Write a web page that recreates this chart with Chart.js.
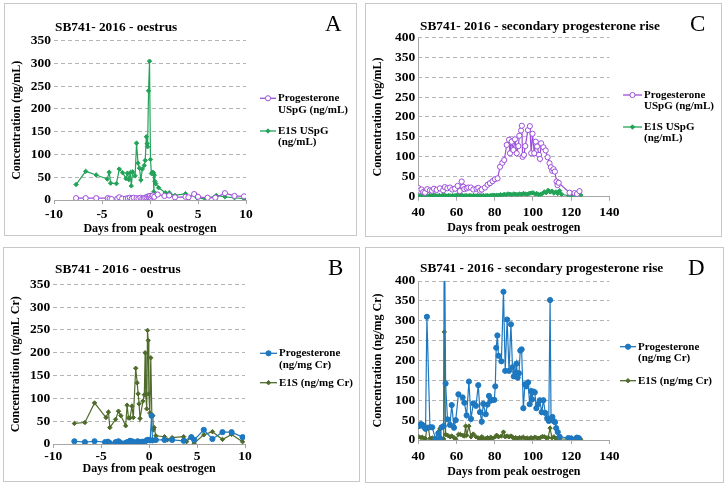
<!DOCTYPE html>
<html>
<head>
<meta charset="utf-8">
<script src="https://cdn.jsdelivr.net/npm/chart.js@4.4.0/dist/chart.umd.min.js"></script>
<style>
    body { margin: 0; background: #fff; width: 727px; height: 486px; position: relative; overflow: hidden;
           font-family: "Liberation Serif", "Times New Roman", serif; }
    .panel { position: absolute; }
    .panel canvas { position: absolute; left: 0; top: 0; }
    .frame { position: absolute; left: 0; top: 0; right: 0; bottom: 0; border: 1px solid #c8c8c8; }
    .ttl { position: absolute; font-weight: bold; font-size: 13.3px; line-height: 13px; white-space: nowrap; }
    .tag { position: absolute; font-size: 23px; line-height: 23px; }
</style>
</head>
<body>

<div class="panel" style="left:4px;top:3px;width:353px;height:233px">
    <div class="frame"></div>
    <canvas id="chartA" width="353" height="233"></canvas>
    <div class="ttl" style="left:51px;top:17px">SB741- 2016 - oestrus</div>
    <div class="tag" style="left:321px;top:9px">A</div>
</div>
<div class="panel" style="left:3px;top:247px;width:357px;height:235px">
    <div class="frame"></div>
    <canvas id="chartB" width="357" height="235"></canvas>
    <div class="ttl" style="left:52px;top:15px">SB741 - 2016 - oestrus</div>
    <div class="tag" style="left:325px;top:9px">B</div>
</div>
<div class="panel" style="left:365px;top:3px;width:357px;height:234px">
    <div class="frame"></div>
    <canvas id="chartC" width="357" height="234"></canvas>
    <div class="ttl" style="left:55px;top:16px">SB741- 2016 - secondary progesterone rise</div>
    <div class="tag" style="left:325px;top:9px">C</div>
</div>
<div class="panel" style="left:365px;top:247px;width:359px;height:236px">
    <div class="frame"></div>
    <canvas id="chartD" width="359" height="236"></canvas>
    <div class="ttl" style="left:55px;top:14px">SB741 - 2016 - secondary progesterone rise</div>
    <div class="tag" style="left:323px;top:9px">D</div>
</div>

<script>
// ========================================
// DATA
// ========================================

// A - oestrus, ng/mL
const aProgX = [-7.7, -6.7, -5.6, -4.4, -4.2, -4.0, -3.4, -3.2, -2.9, -2.5, -2.3, -2.1, -1.9, -1.7, -1.4, -1.2, -1.0, -0.8, -0.65, -0.5, -0.35, -0.2, -0.1, 0, 0.1, 0.2, 0.3, 0.45, 0.8, 1.5, 2.0, 2.6, 3.7, 4.0, 4.6, 5.0, 6.0, 6.8, 7.8, 8.8, 9.8];
const aProgY = [4, 4, 4, 4, 3, 2, 3, 6, 3, 3, 4, 5, 3, 5, 4, 3, 5, 3, 4, 5, 6, 8, 7, 9, 5, 8, 10, 7, 12, 9, 10, 6, 7, 6, 13, 7, 5, 5, 15, 9, 8];
const aE1sX = [-7.7, -6.7, -5.6, -4.45, -4.25, -4.1, -3.5, -3.2, -2.85, -2.5, -2.35, -2.2, -2.05, -1.95, -1.8, -1.55, -1.4, -1.25, -1.1, -0.95, -0.8, -0.6, -0.5, -0.38, -0.3, -0.25, -0.15, -0.05, 0.05, 0.15, 0.25, 0.35, 0.4, 0.45, 0.5, 0.6, 0.9, 1.6, 2.0, 2.6, 3.7, 4.0, 4.7, 4.9, 5.8, 6.9, 7.8, 8.8, 9.8];
const aE1sY = [34, 63, 55, 46, 61, 37, 36, 68, 60, 47, 59, 45, 60, 31, 62, 53, 125, 81, 70, 44, 68, 76, 87, 139, 124, 117, 240, 305, 89, 58, 61, 60, 18, 55, 41, 36, 27, 16, 16, 10, 14, 5, 13, 5, 2, 10, 7, 5, 3];

// B - oestrus, creatinine indexed
const bProgX = [-7.8, -6.7, -5.7, -4.6, -4.3, -4.1, -3.5, -3.2, -3.0, -2.5, -2.3, -2.0, -1.8, -1.6, -1.2, -1.0, -0.7, -0.4, -0.2, 0.0, 0.1, 0.25, 0.35, 0.7, 1.6, 2.4, 3.6, 4.4, 4.7, 5.7, 6.6, 7.65, 8.6, 9.75];
const bProgY = [6, 4, 6, 4, 5, 2, 4, 6, 3, 2, 4, 7, 6, 4, 6, 4, 5, 6, 9, 9, 8, 62, 8, 9, 9, 9, 7, 15, 9, 31, 11, 26, 26, 15];
const bE1sX = [-7.8, -6.7, -5.7, -4.5, -4.25, -4.1, -3.5, -3.2, -2.95, -2.45, -2.3, -2.15, -2.0, -1.8, -1.65, -1.4, -1.25, -1.15, -1.05, -0.95, -0.65, -0.5, -0.42, -0.35, -0.25, -0.17, -0.1, -0.03, 0.07, 0.17, 0.28, 0.38, 0.45, 0.52, 0.7, 1.6, 1.9, 2.4, 3.6, 3.9, 4.4, 4.7, 5.7, 6.6, 7.65, 8.6, 9.75];
const bE1sY = [45, 47, 90, 58, 70, 36, 54, 72, 62, 40, 85, 57, 57, 83, 58, 166, 134, 110, 88, 56, 94, 108, 200, 108, 77, 249, 227, 110, 68, 189, 64, 62, 31, 36, 18, 16, 9, 14, 16, 5, 16, 2, 20, 27, 10, 21, 5];

// C - secondary progesterone rise, ng/mL
const cProgX = [40, 40.7, 41.7, 42.6, 43.5, 44.7, 46.1, 47.2, 48.2, 49.6, 51.3, 53, 53.9, 55.2, 56.6, 57.8, 59.2, 60.6, 61.7, 62.7, 63.5, 64.1, 65.3, 66.2, 67.5, 68.8, 70.5, 71.4, 72.3, 73.2, 74.9, 76.3, 77.5, 78.9, 80.1, 81.5, 82.8, 84, 85, 86.3, 87.5, 88, 88.9, 89.8, 90.6, 91.5, 92.4, 92.9, 93.8, 94.2, 94.6, 95.3, 96, 97.4, 98.4, 99.1, 99.8, 100.7, 101.5, 102.2, 103.2, 103.7, 104.3, 105.5, 106.7, 107.7, 108.7, 109.4, 110.1, 110.8, 111.5, 112.4, 112.9, 113.5, 119.2, 121.8, 123.1, 124.4];
const cProgY = [22, 15, 18, 12, 10, 19, 16, 15, 20, 17, 21, 16, 24, 21, 23, 18, 20, 27, 14, 38, 25, 19, 21, 23, 23, 18, 20, 22, 15, 18, 23, 30, 34, 39, 44, 46, 75, 85, 92, 130, 143, 109, 138, 117, 144, 109, 127, 153, 166, 178, 100, 105, 127, 167, 177, 109, 158, 109, 138, 126, 105, 95, 134, 124, 116, 99, 84, 74, 65, 69, 63, 38, 29, 35, 10, 9, 7, 14];
const cE1sX = [40, 41, 42, 43, 44, 45, 46, 47, 48, 49, 50, 51, 52, 53, 54, 55, 56, 57, 58, 59, 60, 61, 62, 63, 64, 65, 66, 67, 68, 69, 70, 71, 72, 73, 74, 75, 76, 77, 78, 79, 80, 81, 82, 83, 84, 85, 86, 87, 88, 89, 90, 91, 92, 93, 94, 95, 96, 97, 98, 99, 100, 101, 102, 103, 104, 105, 106, 107, 108, 109, 110, 111, 112, 113, 114, 115, 119, 121, 123, 125];
const cE1sY = [3, 2, 4, 2, 3, 2, 3, 2, 4, 3, 2, 3, 2, 4, 3, 2, 3, 2, 3, 2, 4, 3, 5, 3, 2, 3, 2, 3, 2, 3, 2, 3, 2, 2, 3, 2, 3, 2, 3, 4, 3, 4, 3, 5, 4, 6, 5, 7, 6, 5, 7, 6, 5, 7, 6, 8, 7, 6, 8, 9, 10, 7, 8, 5, 6, 8, 12, 10, 16, 12, 14, 9, 12, 8, 15, 6, 2, 3, 2, 4];

// D - secondary progesterone rise, creatinine indexed
const dProgX = [40.3, 41.4, 42.1, 43.1, 43.8, 44.5, 46.1, 47.3, 49, 50.5, 51.3, 52.2, 53.3, 53.6, 54.3, 55.3, 56.6, 57.5, 58.7, 59.6, 61, 63.2, 64.1, 65.3, 66.5, 67.6, 68.8, 70.2, 71.4, 72.3, 73.2, 74, 75.3, 76.2, 77, 77.9, 79, 79.8, 80.3, 80.8, 81.4, 82, 83.5, 84.6, 85.5, 86.5, 87.5, 88.5, 89.3, 90, 90.8, 91.4, 92, 92.7, 93.4, 94.1, 95, 95.8, 96.6, 97.5, 98.3, 99, 99.6, 100.2, 101, 101.8, 102.6, 103.6, 104.6, 105.5, 106.5, 107.5, 108.3, 109, 109.5, 110.2, 111, 111.6, 112.2, 113, 114, 118.5, 120, 123, 124, 125];
const dProgY = [35, 40, 38, 32, 28, 310, 32, 32, 3, 17, 4, 32, 35, 620, 142, 52, 38, 88, 31, 50, 115, 107, 94, 62, 147, 53, 92, 86, 138, 70, 46, 91, 65, 89, 111, 99, 101, 101, 135, 232, 263, 212, 198, 373, 174, 303, 174, 291, 183, 160, 170, 192, 157, 168, 225, 228, 80, 140, 135, 145, 90, 123, 102, 122, 120, 80, 90, 100, 70, 100, 68, 55, 48, 352, 50, 58, 47, 45, 30, 20, 8, 5, 4, 6, 5];
const dE1sX = [40.3, 41.4, 42.1, 43.1, 43.8, 44.5, 45.3, 46.1, 47.3, 49, 50.5, 51.3, 52.2, 53.3, 53.6, 54.3, 55.3, 56.6, 57.5, 58.7, 59.6, 61, 62, 63.2, 64.1, 64.8, 65.3, 66.5, 67.6, 68.8, 70.2, 71.4, 72.3, 73.2, 74, 75.3, 76.2, 77, 77.9, 79, 80.3, 81, 82, 83.5, 84.6, 85.5, 86.5, 87.5, 88.5, 89.3, 90, 91, 92, 93, 94, 95, 96, 97, 98, 99, 100, 101, 102, 103, 104, 105, 106, 107, 108, 109, 110, 111, 112, 113, 114, 120, 123, 125];
const dE1sY = [8, 6, 7, 4, 3, 33, 30, 4, 5, 3, 20, 28, 4, 3, 272, 14, 12, 8, 10, 6, 2, 14, 14, 12, 10, 35, 12, 35, 8, 15, 8, 5, 3, 8, 5, 3, 6, 3, 7, 4, 8, 12, 8, 10, 20, 8, 10, 8, 10, 7, 5, 6, 4, 6, 5, 7, 4, 5, 3, 6, 4, 7, 5, 4, 6, 9, 8, 5, 6, 30, 5, 8, 4, 6, 3, 2, 3, 2];

// ========================================
// COLOURS
// ========================================
const purple = '#9b4fd9';
const green = '#22a358';
const blue = '#1e78c0';
const olive = '#4f6b2b';
const gridGrey = '#b4b4b4';
const axisGrey = '#a6a6a6';

function pts(xs, ys) {
    return xs.map(function(x, i) { return { x: x, y: ys[i] }; });
}

// legend drawn at the right of the plot, multi-line labels like Excel
const sideLegend = {
    id: 'sideLegend',
    afterDraw: function(chart, args, opts) {
        if (!opts.items) return;
        const ctx = chart.ctx;
        ctx.save();
        opts.items.forEach(function(item, i) {
            const ds = chart.data.datasets[i];
            ctx.strokeStyle = ds.borderColor;
            ctx.lineWidth = 1.3;
            ctx.beginPath();
            ctx.moveTo(opts.x0, item.y);
            ctx.lineTo(opts.x1, item.y);
            ctx.stroke();
            ctx.fillStyle = ds.pointBackgroundColor;
            ctx.lineWidth = 1;
            Chart.helpers.drawPoint(ctx, {
                pointStyle: ds.pointStyle, radius: ds.pointRadius, rotation: 0, borderWidth: 1
            }, (opts.x0 + opts.x1) / 2, item.y);
            ctx.fillStyle = '#000';
            ctx.font = 'bold 11px "Liberation Serif"';
            ctx.textBaseline = 'middle';
            item.lines.forEach(function(t, k) {
                ctx.fillText(t, opts.x1 + 2, item.y + k * 11.5);
            });
        });
        ctx.restore();
    }
};
Chart.register(sideLegend);

function series(label, xs, ys, color, style, radius, fill) {
    return {
        label: label,
        data: pts(xs, ys),
        showLine: true,
        borderColor: color,
        backgroundColor: fill,
        borderWidth: 1.2,
        pointStyle: style,
        pointRadius: radius,
        pointBorderWidth: 1,
        pointBackgroundColor: fill,
        pointBorderColor: color
    };
}

const tickFont = { family: 'Liberation Serif', size: 13.5, weight: 'bold' };
const titleFont = { family: 'Liberation Serif', size: 12, weight: 'bold' };

function makeChart(id, p) {
    new Chart(document.getElementById(id), {
        type: 'scatter',
        data: { datasets: p.datasets },
        options: {
            responsive: false,
            animation: false,
            events: [],
            layout: { padding: { left: 0, top: p.top, right: p.right, bottom: 0 } },
            plugins: {
                legend: { display: false },
                tooltip: { enabled: false },
                sideLegend: p.legend
            },
            scales: {
                x: {
                    type: 'linear',
                    min: p.xMin,
                    max: p.xMax,
                    afterFit: function(s) { s.height = p.xH; },
                    ticks: { stepSize: p.xStep, color: '#000', font: tickFont, padding: p.tickPad - 4, maxRotation: 0 },
                    grid: {
                        drawTicks: true,
                        tickLength: 4,
                        tickColor: axisGrey,
                        lineWidth: 1,
                        // only the left axis line (C, D) is drawn; A and B have no vertical axis line
                        color: function(c) { return c.tick && c.tick.value === p.xCross ? axisGrey : 'rgba(0,0,0,0)'; }
                    },
                    border: { display: true, color: axisGrey },
                    title: { display: true, text: 'Days from peak oestrogen', color: '#000', font: titleFont, padding: { top: 1, bottom: p.titlePad } }
                },
                y: {
                    min: 0,
                    max: p.yMax,
                    afterFit: function(s) { s.width = p.yW; },
                    ticks: { stepSize: 50, color: '#000', font: tickFont, padding: 3 },
                    grid: {
                        drawTicks: false,
                        lineWidth: 1,
                        color: function(c) { return c.tick && c.tick.value === 0 ? 'rgba(0,0,0,0)' : gridGrey; }
                    },
                    border: { display: false, dash: [4, 3] },
                    title: { display: true, text: p.yTitle, color: '#000', font: titleFont, padding: { top: 6, bottom: 0 } }
                }
            }
        }
    });
}

// ========================================
// A
// ========================================
makeChart('chartA', {
    datasets: [
        series('Progesterone USpG (ng/mL)', aProgX, aProgY, purple, 'circle', 2.6, '#ffffff'),
        series('E1S USpG (ng/mL)', aE1sX, aE1sY, green, 'rectRot', 2.2, green)
    ],
    xMin: -10, xMax: 10, xStep: 5, xCross: null, yMax: 350,
    top: 37.7, right: 111, xH: 36, yW: 50, tickPad: 6, titlePad: 0,
    yTitle: 'Concentration (ng/mL)',
    legend: { x0: 256, x1: 272, items: [
        { y: 95.3, lines: ['Progesterone', 'USpG (ng/mL)'] },
        { y: 128, lines: ['E1S USpG', '(ng/mL)'] }
    ] }
});

// ========================================
// B
// ========================================
makeChart('chartB', {
    datasets: [
        series('Progesterone (ng/mg Cr)', bProgX, bProgY, blue, 'circle', 2.6, blue),
        series('E1S (ng/mg Cr)', bE1sX, bE1sY, olive, 'rectRot', 2.2, olive)
    ],
    xMin: -10, xMax: 10, xStep: 5, xCross: null, yMax: 350,
    top: 37.3, right: 115, xH: 38, yW: 50.3, tickPad: 4, titlePad: 6,
    yTitle: 'Concentration (ng/mL Cr)',
    legend: { x0: 257, x1: 274, items: [
        { y: 106.3, lines: ['Progesterone', '(ng/mg Cr)'] },
        { y: 135.7, lines: ['E1S (ng/mg Cr)'] }
    ] }
});

// ========================================
// C
// ========================================
makeChart('chartC', {
    datasets: [
        series('Progesterone USpG (ng/mL)', cProgX, cProgY, purple, 'circle', 2.6, '#ffffff'),
        series('E1S USpG (ng/mL)', cE1sX, cE1sY, green, 'rectRot', 2.2, green)
    ],
    xMin: 40, xMax: 140, xStep: 20, xCross: 40, yMax: 400,
    top: 34.3, right: 112.7, xH: 40.3, yW: 53.3, tickPad: 8, titlePad: 2,
    yTitle: 'Concentration (ng/mL)',
    legend: { x0: 258, x1: 277, items: [
        { y: 92, lines: ['Progesterone', 'USpG (ng/mL)'] },
        { y: 124, lines: ['E1S USpG', '(ng/mL)'] }
    ] }
});

// ========================================
// D
// ========================================
makeChart('chartD', {
    datasets: [
        series('Progesterone (ng/mg Cr)', dProgX, dProgY, blue, 'circle', 2.6, blue),
        series('E1S (ng/mg Cr)', dE1sX, dE1sY, olive, 'rectRot', 2.2, olive)
    ],
    xMin: 40, xMax: 140, xStep: 20, xCross: 40, yMax: 400,
    top: 34, right: 114.7, xH: 43, yW: 53.3, tickPad: 8, titlePad: 4,
    yTitle: 'Concentration (ng/mg Cr)',
    legend: { x0: 255, x1: 271, items: [
        { y: 99.7, lines: ['Progesterone', '(ng/mg Cr)'] },
        { y: 133.7, lines: ['E1S (ng/mg Cr)'] }
    ] }
});
</script>
</body>
</html>
